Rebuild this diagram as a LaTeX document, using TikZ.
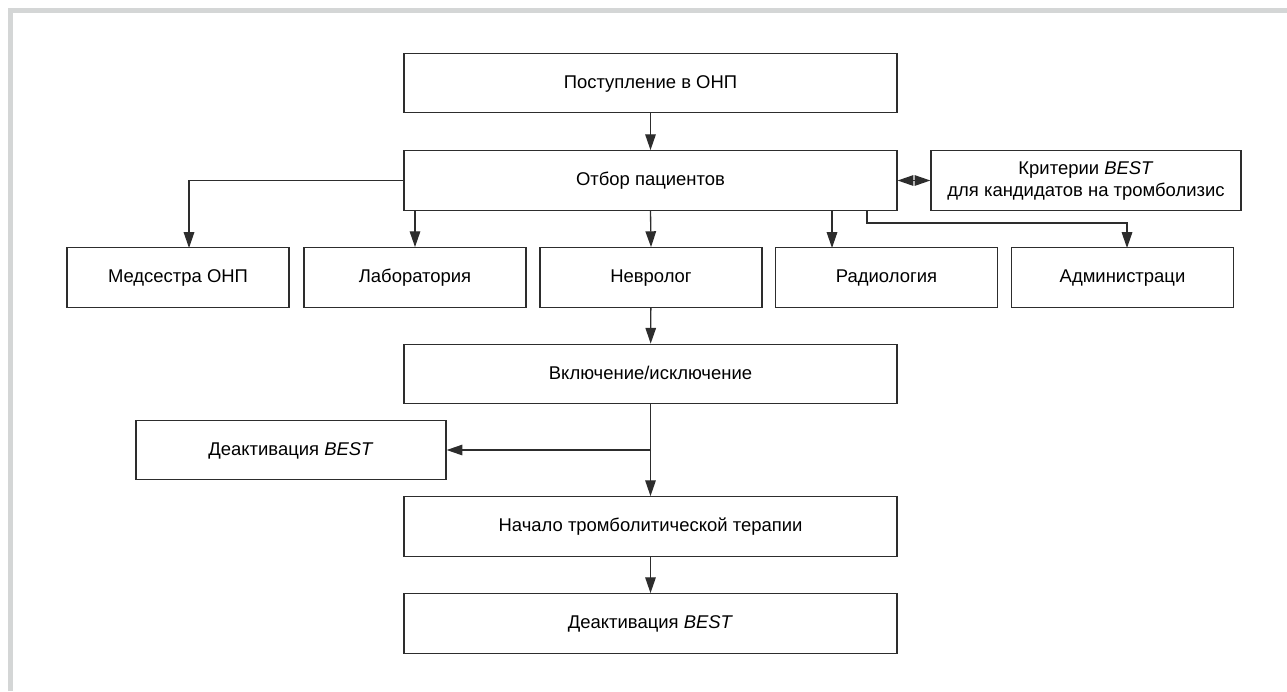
\documentclass[tikz,border=0pt]{standalone}
\usepackage{fontspec}
\setmainfont{Liberation Sans}
\usetikzlibrary{arrows.meta,positioning}
\definecolor{framegray}{RGB}{212,214,214}
\definecolor{linegray}{RGB}{45,45,45}

\tikzset{
  stepbox/.style={draw=linegray,line width=0.75pt,fill=white,minimum height=1.19cm,
    inner sep=2pt,align=center,font=\fontsize{10.5}{12.5}\selectfont},
  oneline/.style={stepbox,text height=1.6ex,text depth=0.45ex},
  widebox/.style={oneline,minimum width=9.86cm},
  smallbox/.style={oneline,minimum width=4.44cm},
  sidebox/.style={stepbox,minimum width=6.2cm},
  link/.style={draw=linegray,line width=0.75pt,-{Triangle[length=9pt,width=6pt]}},
}

\begin{document}
\begin{tikzpicture}[x=0.02cm,y=-0.02cm]
\useasboundingbox (0,0) rectangle (1287,691);
% gray frame, top and left only
\draw[framegray,line width=2.9pt] (10.5,691) -- (10.5,10.5) -- (1287,10.5);

\node[widebox] (arrive) at (650.5,83) {Поступление в ОНП};
\node[widebox] (select) at (650.5,180.5) {Отбор пациентов};
\node[sidebox] (crit) at (1086,180.5) {Критерии \textit{BEST}\\для кандидатов на тромболизис};
\node[smallbox] (nurse) at (178,277.5) {Медсестра ОНП};
\node[smallbox] (lab) at (415,277.5) {Лаборатория};
\node[smallbox] (neuro) at (651,277.5) {Невролог};
\node[smallbox] (radio) at (886.5,277.5) {Радиология};
\node[smallbox] (admin) at (1122.5,277.5) {Администраци};
\node[widebox] (incl) at (650.5,374) {Включение/исключение};
\node[oneline,minimum width=6.2cm] (deact) at (291,450) {Деактивация \textit{BEST}};
\node[widebox] (start) at (650.5,526.5) {Начало тромболитической терапии};
\node[widebox] (deactend) at (650.5,623.5) {Деактивация \textit{BEST}};

\coordinate (nursein) at (189,248);
\coordinate (radioout) at (832,210);
\coordinate (radioin) at (832,248);
\coordinate (adminout) at (867,210);
\coordinate (adminturn) at (867,223);
\coordinate (adminin) at (1127,248);
\coordinate (split) at (651,450);

\path[every edge/.style={link}]
(arrive) edge (select)
(lab.north |- select.south) edge (lab.north)
(select.south) edge (neuro.north)
(radioout) edge (radioin)
(neuro) edge (incl)
(incl) edge (start)
(split) edge (deact.east)
(start) edge (deactend);
\draw[link] (select.west) -| (nursein);
\draw[link] (adminout) -- (adminturn) -| (adminin);
\draw[link,{Triangle[length=9pt,width=6pt]}-{Triangle[length=9pt,width=6pt]}] (select.east) -- (crit.west);
\end{tikzpicture}
\end{document}
